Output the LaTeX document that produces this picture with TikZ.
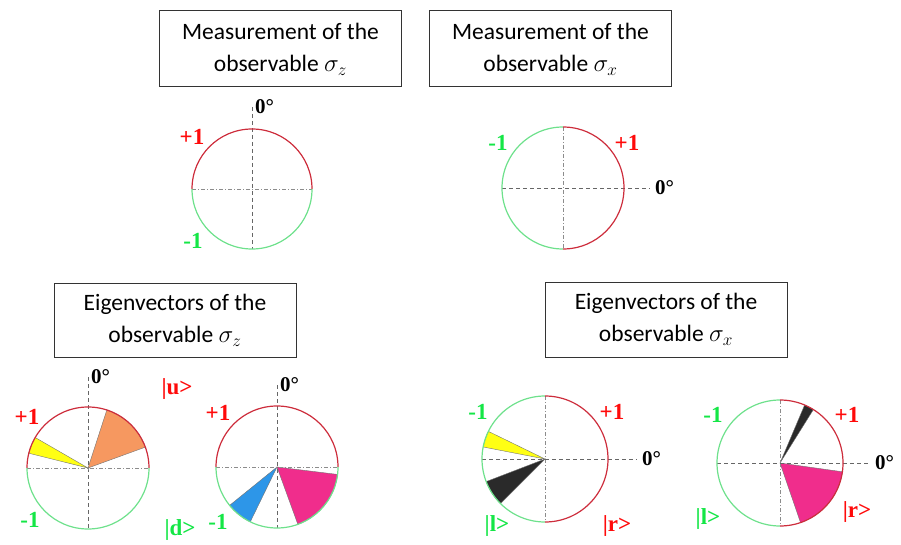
\documentclass[tikz,border=0pt]{standalone}
\usepackage{fontspec}
\setmainfont{Liberation Serif}
\newfontfamily\boxfont{Carlito}
\usetikzlibrary{positioning}
\definecolor{arcred}{RGB}{205,45,60}
\definecolor{arcgreen}{RGB}{110,225,140}
\definecolor{labred}{RGB}{255,10,10}
\definecolor{labgreen}{RGB}{20,230,70}
\definecolor{wyellow}{RGB}{255,255,20}
\definecolor{worange}{RGB}{246,152,96}
\definecolor{wpink}{RGB}{240,45,140}
\definecolor{wblue}{RGB}{45,150,232}
\definecolor{wdark}{RGB}{42,42,42}

\begin{document}
\begin{tikzpicture}[
    x=1pt, y=1pt,
    titlebox/.style={draw=black!80, line width=1pt, minimum width=242pt,
                     minimum height=76pt, align=center,
                     font=\fontsize{23.5}{32}\selectfont\boxfont},
    plus/.style={text=labred, inner sep=0pt, font=\fontsize{23}{23}\selectfont\bfseries},
    minus/.style={text=labgreen, inner sep=0pt, font=\fontsize{23}{23}\selectfont\bfseries},
    deg/.style={inner sep=0pt, font=\fontsize{21}{21}\selectfont\bfseries},
    axis/.style={black!60, line width=0.8pt, dash pattern=on 4pt off 3pt},
    axisdd/.style={black!45, line width=0.6pt, dash pattern=on 4pt off 2pt on 1pt off 2pt},
    upper/.style={arcred, line width=1.2pt},
    lower/.style={arcgreen, line width=1.2pt},
    wedge/.style={draw=black!55, line width=0.4pt}
  ]
  \useasboundingbox (0,0) rectangle (901,544);

  % --- Measurement of sigma_z ---
  \node[titlebox] (measz) at (280.5,495) {Measurement of the\\observable $\sigma_z$};
  \coordinate (mz) at (252,355);
  \coordinate (mztop) at (252,437);
  \draw[axis] (mztop) -- (mz) -- ++(0,-60);
  \draw[axisdd] (mz) ++(-60,0) -- ++(120,0);
  \draw[upper] (mz) ++(0:60) arc[start angle=0, end angle=180, radius=60];
  \draw[lower] (mz) ++(180:60) arc[start angle=180, end angle=360, radius=60];
  \node[plus] (mzp) at (192,407) {+1};
  \node[minus] (mzm) at (193,303) {-1};
  \node[deg, right=3pt of mztop] (mzd) {0°};

  % --- Measurement of sigma_x ---
  \node[titlebox] (measx) at (550.5,495) {Measurement of the\\observable $\sigma_x$};
  \coordinate (mx) at (563,356);
  \coordinate (mxend) at (650,356);
  \draw[axisdd] (mx) ++(0,61) -- ++(0,-122);
  \draw[axis] (mx) ++(-61,0) -- (mxend);
  \draw[lower] (mx) ++(90:61) arc[start angle=90, end angle=270, radius=61];
  \draw[upper] (mx) ++(-90:61) arc[start angle=-90, end angle=90, radius=61];
  \node[minus] (mxm) at (498,401) {-1};
  \node[plus] (mxp) at (627,401) {+1};
  \node[deg, right=5pt of mxend] (mxd) {0°};

  % --- Eigenvectors of sigma_z ---
  \node[titlebox, minimum height=74pt] (eigz) at (175,224) {Eigenvectors of the\\observable $\sigma_z$};
  % left circle
  \coordinate (ez1) at (88,76);
  \coordinate (ez1top) at (88,167);
  \filldraw[wedge, fill=wyellow] (ez1) -- ++(150:61) arc[start angle=150, end angle=166, radius=61] -- cycle;
  \filldraw[wedge, fill=worange] (ez1) -- ++(20:61) arc[start angle=20, end angle=72, radius=61] -- cycle;
  \draw[axis] (ez1top) -- (ez1) -- ++(0,-61);
  \draw[axisdd] (ez1) ++(-61,0) -- ++(122,0);
  \draw[upper] (ez1) ++(0:61) arc[start angle=0, end angle=180, radius=61];
  \draw[lower] (ez1) ++(180:61) arc[start angle=180, end angle=360, radius=61];
  \node[plus] (ez1p) at (27,127) {+1};
  \node[minus] (ez1m) at (30,24) {-1};
  \node[deg, right=3pt of ez1top] (ez1d) {0°};
  % right circle
  \coordinate (ez2) at (277,77);
  \coordinate (ez2top) at (277,159);
  \filldraw[wedge, fill=wblue] (ez2) -- ++(219:61) arc[start angle=219, end angle=244, radius=61] -- cycle;
  \filldraw[wedge, fill=wpink] (ez2) -- ++(-70:61) arc[start angle=-70, end angle=-7, radius=61] -- cycle;
  \draw[axis] (ez2top) -- (ez2) -- ++(0,-61);
  \draw[axisdd] (ez2) ++(-61,0) -- ++(122,0);
  \draw[upper] (ez2) ++(0:61) arc[start angle=0, end angle=180, radius=61];
  \draw[lower] (ez2) ++(180:61) arc[start angle=180, end angle=360, radius=61];
  \node[plus] (ez2u) at (177,155) {|u>};
  \node[plus] (ez2p) at (218,131) {+1};
  \node[minus] (ez2m) at (218,22) {-1};
  \node[minus] (ez2dn) at (180,14) {|d>};
  \node[deg, right=3pt of ez2top] (ez2d) {0°};

  % --- Eigenvectors of sigma_x ---
  \node[titlebox, minimum height=75pt] (eigx) at (666,224.5) {Eigenvectors of the\\observable $\sigma_x$};
  % left circle
  \coordinate (ex1) at (545,85);
  \coordinate (ex1end) at (637,85);
  \filldraw[wedge, fill=wyellow] (ex1) -- ++(154:63) arc[start angle=154, end angle=169, radius=63] -- cycle;
  \filldraw[wedge, fill=wdark] (ex1) -- ++(201:63) arc[start angle=201, end angle=225, radius=63] -- cycle;
  \draw[axisdd] (ex1) ++(0,63) -- ++(0,-126);
  \draw[axis] (ex1) ++(-63,0) -- (ex1end);
  \draw[lower] (ex1) ++(90:63) arc[start angle=90, end angle=270, radius=63];
  \draw[upper] (ex1) ++(-90:63) arc[start angle=-90, end angle=90, radius=63];
  \node[minus] (ex1m) at (478,132) {-1};
  \node[plus] (ex1p) at (612,132) {+1};
  \node[minus] (ex1l) at (497,18) {|l>};
  \node[plus] (ex1r) at (617,18) {|r>};
  \node[deg, right=5pt of ex1end] (ex1d) {0°};
  % right circle
  \coordinate (ex2) at (780,81);
  \coordinate (ex2end) at (870,81);
  \filldraw[wedge, fill=wdark] (ex2) -- ++(58:63) arc[start angle=58, end angle=67, radius=63] -- cycle;
  \filldraw[wedge, fill=wpink] (ex2) -- ++(-71:63) arc[start angle=-71, end angle=-8, radius=63] -- cycle;
  \draw[axisdd] (ex2) ++(0,63) -- ++(0,-126);
  \draw[axis] (ex2) ++(-63,0) -- (ex2end);
  \draw[lower] (ex2) ++(90:63) arc[start angle=90, end angle=270, radius=63];
  \draw[upper] (ex2) ++(-90:63) arc[start angle=-90, end angle=90, radius=63];
  \node[minus] (ex2m) at (713,129) {-1};
  \node[plus] (ex2p) at (847,129) {+1};
  \node[minus] (ex2l) at (708,25) {|l>};
  \node[plus] (ex2r) at (857,32) {|r>};
  \node[deg, right=5pt of ex2end] (ex2d) {0°};
\end{tikzpicture}
\end{document}
